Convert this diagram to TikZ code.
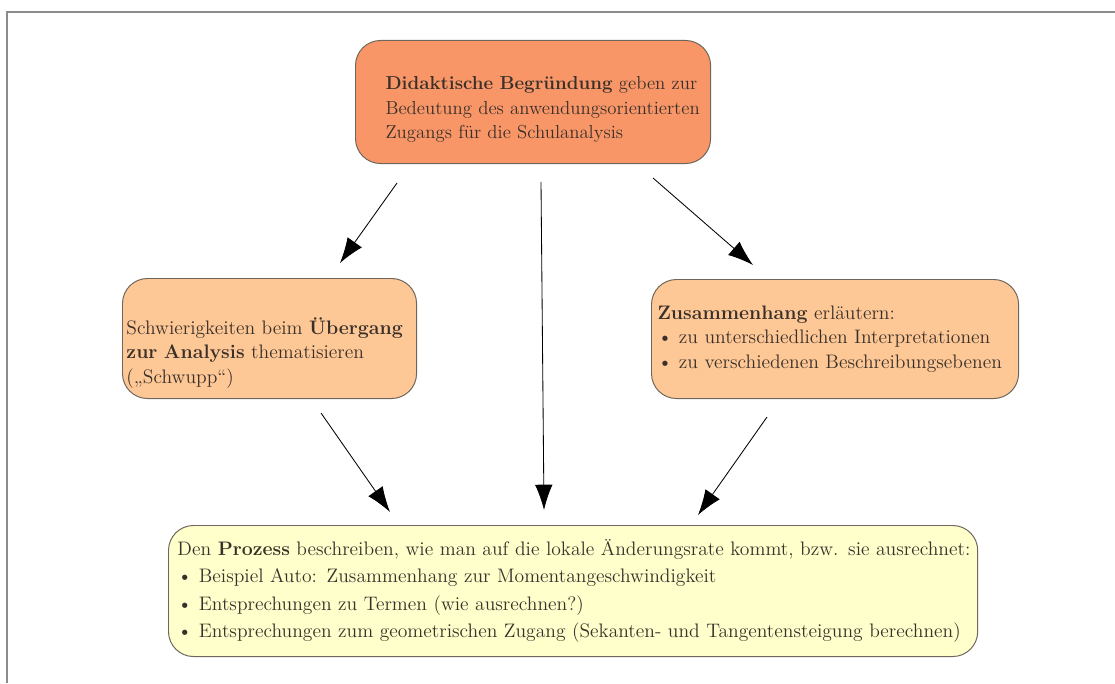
\documentclass[tikz,border=0pt]{standalone}
\usepackage{fontspec}
\usepackage{xcolor}
\usepackage{tikz}
\usetikzlibrary{arrows.meta}

\definecolor{kopfrot}{RGB}{248,150,104}
\definecolor{seitenorange}{RGB}{254,200,150}
\definecolor{prozessgelb}{RGB}{255,255,204}
\definecolor{randgrau}{RGB}{110,102,92}
\definecolor{schrift}{RGB}{58,48,42}
\definecolor{rahmen}{RGB}{140,140,140}

\tikzset{
  kasten/.style={draw=randgrau, line width=0.7pt, rounded corners=0.625cm,
    text=schrift, align=left, inner xsep=0pt, inner ysep=0pt, anchor=north west,
    font=\fontsize{13.9}{17.4}\selectfont},
  pfeil/.style={-{Latex[length=18pt,width=12.5pt]}, line width=0.6pt, black}
}

\begin{document}
\begin{tikzpicture}[x=0.025cm,y=-0.025cm]
\useasboundingbox (0,0) rectangle (1115,683);
\draw [rahmen, line width=1.3pt] (7,683) -- (7,12) -- (1115,12);
% boxes
\node [kasten, fill=kopfrot, text width=8.875cm, minimum width=8.875cm, minimum height=3.075cm,
  font=\fontsize{13.35}{17.6}\selectfont] (begruendung) at (355,40)
  {\leftskip=0.75cm \mbox{\rule{0pt}{20pt}\textbf{Didaktische Begründung} geben zur}\\
   \mbox{Bedeutung des anwendungsorientierten}\\
   \mbox{Zugangs für die Schulanalysis}\par};
\node [kasten, fill=seitenorange, text width=7.35cm, minimum width=7.35cm, minimum height=3.0cm] (uebergang) at (122,278)
  {\leftskip=0.1cm \mbox{\rule{0pt}{32pt}Schwierigkeiten beim \textbf{Übergang}}\\
   \mbox{\textbf{zur Analysis} thematisieren}\\
   \mbox{(„Schwupp“)}\par};
\node [kasten, fill=seitenorange, text width=9.175cm, minimum width=9.175cm, minimum height=2.975cm] (zusammenhang) at (651,279)
  {\leftskip=0.15cm \mbox{\textbf{Zusammenhang} erläutern:}\\
   \mbox{\textbullet\ zu unterschiedlichen Interpretationen}\\
   \mbox{\textbullet\ zu verschiedenen Beschreibungsebenen}\par};
\node [kasten, fill=prozessgelb, text width=20.225cm, minimum width=20.225cm, minimum height=3.275cm,
  font=\fontsize{13.9}{19.6}\selectfont] (prozess) at (168,525)
  {\leftskip=0.225cm \mbox{Den \textbf{Prozess} beschreiben, wie man auf die lokale Änderungsrate kommt, bzw. sie ausrechnet:}\\
   \mbox{\textbullet\ Beispiel Auto: Zusammenhang zur Momentangeschwindigkeit}\\
   \mbox{\textbullet\ Entsprechungen zu Termen (wie ausrechnen?)}\\
   \mbox{\textbullet\ Entsprechungen zum geometrischen Zugang (Sekanten- und Tangentensteigung berechnen)}\par};
% arrow ends
\coordinate (b-l) at (397,183);
\coordinate (b-m) at (541,182);
\coordinate (b-r) at (653,178);
\coordinate (u-ein) at (340,263);
\coordinate (z-ein) at (753,265);
\coordinate (u-aus) at (321,413);
\coordinate (z-aus) at (767,417);
\coordinate (p-l) at (390,512);
\coordinate (p-m) at (544,510);
\coordinate (p-r) at (698,515);
% arrows
\draw [pfeil] (b-l) -- (u-ein);
\draw [pfeil] (b-r) -- (z-ein);
\draw [pfeil] (b-m) -- (p-m);
\draw [pfeil] (u-aus) -- (p-l);
\draw [pfeil] (z-aus) -- (p-r);
\end{tikzpicture}
\end{document}
